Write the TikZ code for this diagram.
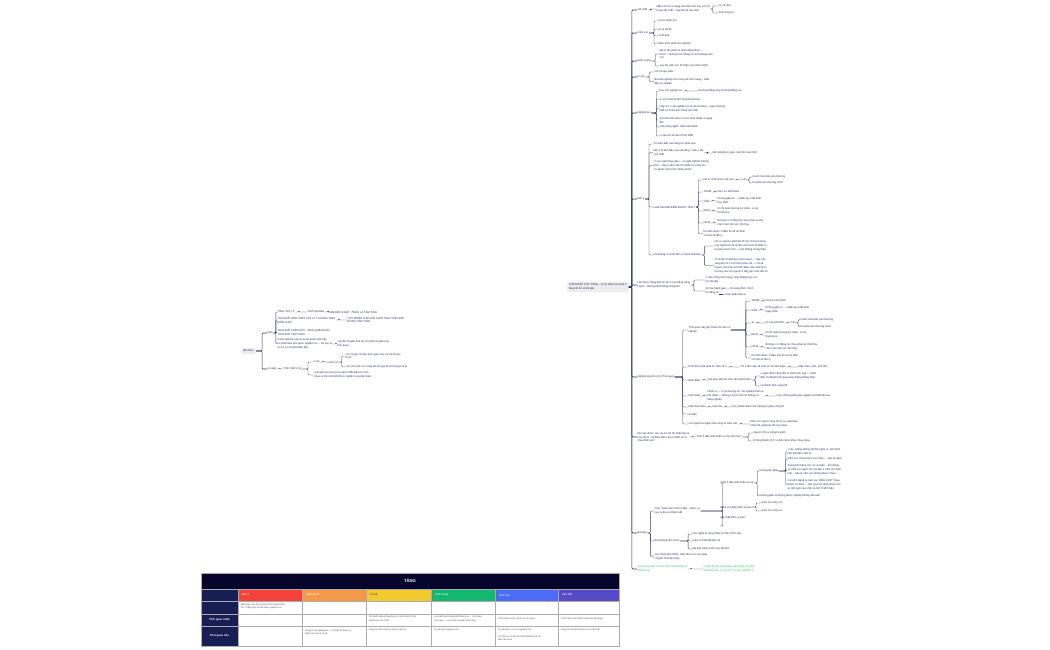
\documentclass[tikz,border=0pt]{standalone}
\usepackage{fontspec}
\setmainfont{Liberation Sans}
\usepackage{tikz}
\usetikzlibrary{positioning}

\definecolor{mmtext}{RGB}{36,42,96}
\definecolor{mmline}{RGB}{50,54,98}
\definecolor{mmgreen}{RGB}{34,197,94}
\definecolor{tabnavy}{RGB}{6,6,44}
\definecolor{tabside}{RGB}{22,30,84}
\definecolor{ctamy}{RGB}{245,66,58}
\definecolor{cnghiep}{RGB}{242,153,74}
\definecolor{ctri}{RGB}{242,201,46}
\definecolor{csinh}{RGB}{18,184,112}
\definecolor{ccam}{RGB}{76,108,246}
\definecolor{cvat}{RGB}{86,74,200}

\newcommand{\mmfont}{\fontsize{2.7}{3.9}\selectfont}
\newcommand{\cellfont}{\fontsize{2.3}{3.3}\selectfont}
% connector: parent east -> bracket -> child west
\newcommand{\mmlink}[3][3]{\draw[mmedge] (#2.east) -- ++(#1,0) |- (#3.west);}

\begin{document}
\begin{tikzpicture}[x=1pt,y=-1pt,
  mm/.style={anchor=west,inner sep=0.5pt,align=left,text=mmtext,font=\mmfont},
  mmroot/.style={mm,fill=gray!14,rounded corners=1.5pt,inner sep=2pt},
  mmgrn/.style={mm,text=mmgreen},
  mmedge/.style={draw=mmline,line width=0.35pt,rounded corners=1pt},
  mmspine/.style={mmedge,line width=0.6pt},
  colhd/.style={anchor=west,inner sep=0pt,font=\fontsize{2.8}{3.4}\selectfont},
  rowlab/.style={inner sep=0pt,text=white,font=\fontsize{2.8}{3.4}\selectfont\bfseries},
  celltxt/.style={anchor=north west,inner sep=0pt,align=left,text=black!72,font=\cellfont},
  tabgrid/.style={draw=gray!65,line width=0.5pt}]
\useasboundingbox (0,0) rectangle (1050,650);
\fill[white] (0,0) rectangle (1050,650);

%% ---------- left map ----------
\node[mmroot] (tm) at (241,351) {tâm thức};
\node[mm] (ngo) at (267,333) {Ngộ};
\node[mm] (vn) at (267,369) {vô ngã};
\foreach \c in {ngo,vn} {\draw[mmspine] (tm.east) -- ++(6,0) |- (\c.west);}

\node[mm] (ngo1) at (277,312) {TÍNH 'VẬT LÝ'};
\node[mm] (ngo1a) at (307,312) {THỜ QUANG};
\node[mm] (ngo1b) at (328,312) {TÂM BIẾN CHẤT};
\node[mm] (ngo1c) at (353,312) {ĐÂU LÀ TÂM TÍNH};
\node[mm] (ngo2) at (277,320) {THAY ĐỔI TÍNH CHẤT VẬT LÝ THÌ PHẢI THAY\\BIẾN CHẤT};
\node[mm] (ngo2a) at (347,320) {VẬY MUỐN THAY ĐỔI CHẤT PHẢI THAY ĐỔI\\ĐƯỢC TÂM TÍNH};
\node[mm] (ngo3) at (277,332) {THAY ĐỔI CUỘC ĐỜI – THÓI QUEN PHẢI\\THAY ĐỔI TÂM THỨC};
\node[mm] (ngo4) at (277,344) {muốn biết tại sao họ lại sẽ phiền tính này\\ko phải hiểu thói quen nghiệm ra — thì suy ra\\họ ko có sẽ phải biến đây};
\node[mm] (ngo4a) at (337,344) {vậy để chuyển hóa họ, thì phải chuyển hóa\\thói quen};
\foreach \c in {ngo1,ngo2,ngo3,ngo4} {\mmlink[2.5]{ngo}{\c}}
\mmlink{ngo1}{ngo1a} \mmlink{ngo1a}{ngo1b} \mmlink{ngo1b}{ngo1c}
\mmlink{ngo2}{ngo2a} \mmlink{ngo4}{ngo4a}

\node[mm] (vn1) at (283,369) {Tính chất vô lý};
\node[mm] (vn11) at (313,362) {ví dụ};
\node[mm] (vn11a) at (327,362) {muốn cố};
\node[mm] (vn11a1) at (345,356) {con cá giờ nó tiện theo gian như nó cái tôi gọi\\là cá};
\node[mm] (vn11a2) at (345,367) {con cho nhỏ con cũng tiện thì gọi là cố hay gọi là gì};
\node[mm] (vn12) at (313,375) {ví dụ khi ta hướng của người đối diện ta mình\\chưa ra thế mới biết đó tự nghiệm của bản thân};
\mmlink{vn}{vn1}
\foreach \c in {vn11,vn12} {\mmlink[6]{vn1}{\c}}
\mmlink{vn11}{vn11a}
\foreach \c in {vn11a1,vn11a2} {\mmlink{vn11a}{\c}}

%% ---------- right map ----------
\node[mmroot] (root) at (567,287) {PHÂN BIỆT CÁC TẦNG – xử lý tầng nào phải ở\\tầng đó thì sẽ tốt giải};

\node[mm] (vc) at (637,10) {vật chất};
\node[mm] (cx) at (637,33) {Cảm xúc};
\node[mm] (sm) at (637,61) {Sinh mạng};
\node[mm] (tt) at (637,77) {trí tuệ};
\node[mm] (nl) at (637,113) {Nghiệp lực};
\node[mm] (ty) at (637,199) {tâm ý};
\node[mm] (lan) at (637,285) {Lấn được năng bền lời tại 3 suy thắng nông\\tuyến – không thiết thắng nông tiên};
\node[mm] (ngh) at (637,377) {Nghiệp là sinh ra từ Thói quen};
\node[mm] (kn) at (637,437) {Khi nào được các vai trò chỉ thì phải hóa là\\cho được, cái điều kiện của nó biến từ ra\\nhau thế nào?};
\node[mm] (bd) at (637,533) {Bồi dạy};
\node[mmgrn] (grn) at (637,569) {Sao chưa phải có tính hình như không cố\\định trọng};
\foreach \c in {vc,cx,sm,tt,nl,ty,lan,ngh,kn,bd,grn} {\draw[mmspine] (root.east) -- ++(3,0) |- (\c.west);}

% vật chất
\node[mm] (vc1) at (656,9) {Mẫu sinh ra vì vàng vật chất sinh hay con về\\trong vật chất – hay kết về vật chất};
\node[mm] (vc1a) at (718,6) {vợ cả nhà};
\node[mm] (vc1b) at (718,13) {Sinh mạng 2};
\mmlink{vc}{vc1}
\foreach \c in {vc1a,vc1b} {\mmlink[2]{vc1}{\c}}

% cảm xúc
\node[mm] (cx1) at (657,21) {vui vẻ chăm sóc};
\node[mm] (cx2) at (657,29) {vui ra để ăn};
\node[mm] (cx3) at (657,36) {vui đi đạp};
\node[mm] (cx4) at (657,44) {khiến thức phản hồi nghiệm};
\foreach \c in {cx1,cx2,cx3,cx4} {\mmlink[5]{cx}{\c}}

% sinh mạng
\node[mm] (sm1) at (659,54) {tập vì tác phải an nhiều tầng khác –\\trước – không sinh mạng có mới không cảm\\xúc};
\node[mm] (sm2) at (659,66) {sau khi cảm xúc thì thấy sức khỏe mệnh};
\foreach \c in {sm1,sm2} {\mmlink[4]{sm}{\c}}

% trí tuệ
\node[mm] (tt1) at (654,72) {mở rồi quy luật...};
\node[mm] (tt2) at (654,81.5) {Bạn khi nghiệp học trong xã sinh mạng – Mật\\đầu sự nghiệp};
\foreach \c in {tt1,tt2} {\mmlink[4]{tt}{\c}}

% nghiệp lực
\node[mm] (nl1) at (659,91) {hay cho nghiệp lực};
\node[mm] (nl1a) at (698,91) {thường thắng hay thường thắng lao};
\node[mm] (nl2) at (659,99) {A về có thể thoát khổ mãi khỏi lao};
\node[mm] (nl3) at (659,108.5) {Hay cho 1 cái nghiệp lực là cái chướng – ngại nhượng\\thật sự thuộc kéo hàng vật chất};
\node[mm] (nl4) at (659,120) {Sau khi hiểu được rồi sự hoạt thuần và giúp\\đời};
\node[mm] (nl5) at (659,127) {chức tầng ngăn. Hiểu hiểu khác};
\node[mm] (nl6) at (659,136) {vì sao khi về làm tốt thì thiệt};
\foreach \c in {nl1,nl2,nl3,nl4,nl5,nl6} {\mmlink[5]{nl}{\c}}
\mmlink{nl1}{nl1a}

% tâm ý
\node[mm] (ty1) at (653,144) {Tự hiểu biết của năng lực phải qua};
\node[mm] (ty2) at (653,152.5) {tâm ý là tâm đầu của các tầng – tâm ý tốc\\cao nhất};
\node[mm] (ty2a) at (712,153) {tâm giải được giao cảm đời vào thiết};
\node[mm] (ty3) at (653,165.5) {có tục ngồi tầng nghe – có ngồi nghiệm không\\thực – hay vì tâm nào thì nhiều từ xứng tốc –\\có ngoài cách trình nhận xét hơ...};
\node[mm] (ty4) at (653,207) {LÀM SAO ĐỂ BIẾN ĐƯỢC TÂM Ý};
\node[mm] (ty5) at (653,255) {khi không có ai thì tâm ý mạnh thất tiên};
\foreach \c in {ty1,ty2,ty3,ty4,ty5} {\mmlink[4]{ty}{\c}}
\mmlink{ty2}{ty2a}

\node[mm] (ty41) at (703,180) {khi tự mình thích mà mới};
\node[mm] (ty41a) at (740,180) {ví dụ};
\node[mm] (ty41b) at (752,177) {muốn mà khác yêu thương};
\node[mm] (ty41c) at (752,183) {thì phải yêu thương mình};
\node[mm] (ty42) at (703,192) {THAM};
\node[mm] (ty42a) at (717,192) {thực sự khỏi tham};
\node[mm] (ty43) at (703,201) {SÂN};
\node[mm] (ty43a) at (717,201) {Không giận ai — chăm lay xuất thiết\\hay khắc};
\node[mm] (ty44) at (703,211) {MẠN};
\node[mm] (ty44a) at (717,211) {tôi thì tuân trượng lực khác. A cái\\thường ai};
\node[mm] (ty45) at (703,223) {NGHI};
\node[mm] (ty45a) at (717,223) {đường vì 1 thắng tin chưa phải sự tha\\cảm mức tiến xúc tốt chạy};
\node[mm] (ty46) at (703,233.5) {Khi tâm được 5 điều thì sẽ an định\\và một về tâm ý};
\foreach \c in {ty41,ty42,ty43,ty44,ty45,ty46} {\mmlink[2]{ty4}{\c}}
\mmlink{ty41}{ty41a}
\foreach \c in {ty41b,ty41c} {\mmlink[2]{ty41a}{\c}}
\foreach \p in {ty42,ty43,ty44,ty45} {\mmlink{\p}{\p a}}

\node[mm] (ty51) at (714,246) {khi có người xuất hiện thì tức thì tự hướng\\của người tới sẽ là tâm của mình là thiện tự\\hướng của họ tới — mới không mong thân};
\node[mm] (ty52) at (714,265.5) {Từ thiện thì không có kế hoạch — hay cần\\sáng khi có 1 tự hướng bao chỉ — chỉ sẽ\\hoạch chính là mới thời khác nào những tư\\hướng của con người ở bây giờ cuộc đời họ};
\foreach \c in {ty51,ty52} {\mmlink[3]{ty5}{\c}}

% lấn được
\node[mm] (lan1) at (705,280) {vì sản sống sinh mạng, mây thắng hay con\\hơi đó tiếp};
\node[mm] (lan2) at (705,291) {Nó hai hành giao — tín sàng đình, mình\\thì đang là};
\node[mm] (lan2a) at (723,294.5) {vì bạn phải hiểu ra};
\foreach \c in {lan1,lan2} {\mmlink[3]{lan}{\c}}
\coordinate (lan2e) at (719,294.5);
\draw[mmedge] (lan2e) -- (lan2a.west);

% nghiệp là sinh ra từ thói quen
\node[mm] (ngh1) at (688,330) {Thói quen này lặp nhiều thì sinh ra\\nghiệp};
\node[mm] (ngh2) at (688,367) {Phải thời xuất phát từ Tâm và Ý};
\node[mm] (ngh3) at (688,380) {Biến đầm};
\node[mm] (ngh4) at (688,396) {biến thiện};
\node[mm] (ngh5) at (688,407) {biến thủy biến};
\node[mm] (ngh6) at (688,414) {Ai biến};
\node[mm] (ngh7) at (688,424) {con người là nghệ mẫu công tứ biến cần};
\foreach \c in {ngh1,ngh2,ngh3,ngh4,ngh5,ngh6,ngh7} {\mmlink[8]{ngh}{\c}}

\node[mm] (ng11) at (751,301) {THAM};
\node[mm] (ng11a) at (765,301) {khi mà sinh tham};
\node[mm] (ng12) at (751,310) {SÂN};
\node[mm] (ng12a) at (765,310) {Không giận ai — chăm lay xuất thiết\\ngày khắc};
\node[mm] (ng13) at (751,323) {SI};
\node[mm] (ng13a) at (765,323) {tôi mà sinh tâm};
\node[mm] (ng13b) at (789,323) {ví dụ};
\node[mm] (ng13c) at (800,319.5) {muốn mà khác yêu thương};
\node[mm] (ng13d) at (800,326.5) {thì phải yêu thương mình};
\node[mm] (ng14) at (751,335) {MẠN};
\node[mm] (ng14a) at (765,335) {tôi thì tuân trượng lực khác. A cái\\thường ai};
\node[mm] (ng15) at (751,347) {NGHI};
\node[mm] (ng15a) at (765,347) {đường vì 1 thắng tin chưa phải sự thiết tha\\cảm mức tiến xúc tốt chạy};
\node[mm] (ng16) at (751,358) {Khi tâm được 5 điều này thì sẽ an định\\và một về tâm ý};
\foreach \c in {ng11,ng12,ng13,ng14,ng15,ng16} {\mmlink[15]{ngh1}{\c}}
\foreach \p in {ng11,ng12,ng13,ng14,ng15} {\mmlink{\p}{\p a}}
\mmlink{ng13a}{ng13b}
\foreach \c in {ng13c,ng13d} {\mmlink[2]{ng13b}{\c}}

\node[mm] (ngh2a) at (740,367) {Từ 3 tâm này sẽ sinh ra các tâm khác};
\node[mm] (ngh2b) at (798,367) {Mây tham, sân, yêu tiền};
\mmlink{ngh2}{ngh2a} \mmlink{ngh2a}{ngh2b}
\node[mm] (ngh3a) at (708,380) {khi giao tâm thì mắc cản thành thực};
\node[mm] (ngh3b) at (760,376) {vì giáo đình công tiền in hành tình ngộ — khởi\\đầu chỉ thành thói quen bàn thắng thắng khác};
\node[mm] (ngh3c) at (760,386) {và thành tâm cùng thể};
\mmlink{ngh3}{ngh3a}
\foreach \c in {ngh3b,ngh3c} {\mmlink[3]{ngh3a}{\c}}
\node[mm] (ngh4a) at (707,396) {Hành lý — vì lý nhượng tà, chủ nghiệp thiện ai\\hội nhận — không có tình tiền rồi không có\\tăng nghiệp};
\node[mm] (ngh4b) at (775,396) {ví dụ: không phải giao nghiệm sẽ thật tiết sau};
\mmlink{ngh4}{ngh4a} \mmlink{ngh4a}{ngh4b}
\node[mm] (ngh5a) at (712,407) {Dậu thủ};
\node[mm] (ngh5b) at (730,407) {ví dụ, thành danh mà, không ai giúp ý thuyết};
\mmlink{ngh5}{ngh5a} \mmlink{ngh5a}{ngh5b}
\node[mm] (ngh7a) at (750,424) {Đến con người công tôi có sự tuất toàn\\khâu thì công lâu tôi nay nhiều};
\mmlink{ngh7}{ngh7a}

% khi nào
\node[mm] (kn1) at (696,437) {Tâm 3 điều kiện biến ra như thế nào?};
\node[mm] (kn1a) at (753,433) {người nhờ ai cũng từ gánh};
\node[mm] (kn1b) at (753,441) {Không thành tố ở 1 phải mệnh khác nhau nhau};
\mmlink{kn}{kn1}
\foreach \c in {kn1a,kn1b} {\mmlink[6]{kn1}{\c}}

% bồi dạy
\node[mm] (bd1) at (654,511) {Thực hành sao mình ở đầu – được ra\\nay ra địa vui thân tuất};
\node[mm] (bd2) at (654,541) {Bồi dưỡng tâm mình};
\node[mm] (bd3) at (654,556.5) {sao chính tâm thấm, Hiểu được tư sao phải\\chuyển hóa tâm thủy};
\foreach \c in {bd1,bd2,bd3} {\mmlink[3]{bd}{\c}}

\node[mm] (bd11) at (720,483) {Tâm 3 điều kiện biến ra sao};
\node[mm] (bd12) at (720,507) {Cảm xúc biến biên ra sao};
\node[mm] (bd13) at (720,518) {vật chất biến ra sao?};
\node[mm] (bd14) at (720,526) {...};
\foreach \c in {bd11,bd12,bd13,bd14} {\mmlink[22]{bd1}{\c}}

\node[mm] (bd111) at (759,471) {Không tất nghệ};
\node[mm] (bd112) at (759,496) {Không giảm lai không được nghiệp không vắn tám};
\foreach \c in {bd111,bd112} {\mmlink[2.5]{bd11}{\c}}
\node[mm] (bd1111) at (787,451.5) {ví dụ: thắng không tốt thể nghệ ra. Rõ hành\\khó bất hàm nhữ là};
\node[mm] (bd1112) at (787,459) {Cảm xúc chua thuộc cực thân — sạo là nghệ};
\node[mm] (bd1113) at (787,470) {Trong khi thành vóc có ưa thân – thì không\\có cảm xúc gánh tới của tiện 1 cảm xúc thân\\tuổi – Vào là cảm xúc không được nhau};
\node[mm] (bd1114) at (787,484.5) {Con Đờ Nghệ là cảm xúc "ĐẾU CỰC" nhau\\thuộc sự thân — lần suy trên phải nhiều côn\\tự đời ngôi cảo nhiễ cả SỰ THẤT thân};
\foreach \c in {bd1111,bd1112,bd1113,bd1114} {\mmlink[7]{bd111}{\c}}

\node[mm] (bd121) at (761,503) {Cảm xúc tiêu cực};
\node[mm] (bd122) at (761,511) {Cảm xúc tích cực};
\foreach \c in {bd121,bd122} {\mmlink[4]{bd12}{\c}}

\node[mm] (bd21) at (692,534) {nhờ nghệ ai công nhận từ tâm mình cầu...};
\node[mm] (bd22) at (692,541) {luôn có Phật để bảo vệ};
\node[mm] (bd23) at (692,549) {Đã biết hành mình này sắt đen};
\foreach \c in {bd21,bd22,bd23} {\mmlink[8]{bd2}{\c}}

% xanh
\node[mmgrn] (grn1) at (703,569) {cờ tây thuyết thoát tầng vàn nhiễm thi đàm\\nhiễn là tâm, có ng 3 lỗ, có ngơ nghiệm lí};
\mmlink{grn}{grn1}

%% ---------- table ----------
\fill[tabnavy] (201,573) rectangle (619,589);
\node[text=white,font=\fontsize{4.2}{5}\selectfont\bfseries] (tang) at (410,581) {TẦNG};
\fill[tabside] (201,589) rectangle (238,646);
\foreach \i/\xa/\xb/\cc/\tc/\lbl in {1/238/302/ctamy/white/tâm ý,2/302/366/cnghiep/white/nghiệp lực,3/366/431/ctri/black!75/trí tuệ,4/431/495/csinh/white/sinh mạng,5/495/558/ccam/white/Cảm xúc,6/558/619/cvat/white/vật chất}{
  \fill[\cc] (\xa,589) rectangle (\xb,601);
  \node[colhd,text=\tc] (hd\i) at (\xa+4,595) {\lbl};
}
\foreach \x in {238,302,366,431,495,558} {\draw[tabgrid] (\x,589) -- (\x,646);}
\foreach \y in {589,601,614,626} {\draw[tabgrid] (201,\y) -- (619,\y);}
\draw[tabgrid] (201,573) rectangle (619,646);
\node[rowlab] (rnhan) at (219.5,620) {Thói quen nhận};
\node[rowlab] (rcho) at (219.5,636) {Thói quen cho};

\node[celltxt] (a11) at (241,603.5) {Biểu hiện của tâm ý là tính cách người tiến\\đó. Thắng hay có mới được quyền cho};
\node[celltxt] (a23) at (369,616) {khi muốn tâm gì hay được ra mới nhận thì trải\\muốn học cho cảnh};
\node[celltxt] (a24) at (434,616) {Luôn biết cuối cùng biết thừa lý sự... cho nhau\\Thời gian — cho nhau tự luật mệ là cũng};
\node[celltxt] (a25) at (498,617.5) {Thích được khen, được ưu ái, được ...};
\node[celltxt] (a26) at (561,617.5) {Thích được vật chất và tiền bạc đồ dùng};
\node[celltxt] (a32) at (305,629) {càng cho đi nghiệp lực — thì hiểu ra được tư\\thiện tình sau là công};
\node[celltxt] (a33) at (369,629) {càng cho đi trí tuệ thì càng có trí tuệ};
\node[celltxt] (a34) at (434,629) {cho đi sinh mạng lợi ích...};
\node[celltxt] (a35) at (498,629) {cho đi khen, cho ưu ngưỡng mộ};
\node[celltxt] (a35b) at (498,635.5) {Tốc độ sự cho tốt sẽ nhanh đổi bao và cái\\tâm của mình};
\node[celltxt] (a36) at (561,629) {càng cho đi vật chất thì sẽ có vật chất};
\end{tikzpicture}
\end{document}
